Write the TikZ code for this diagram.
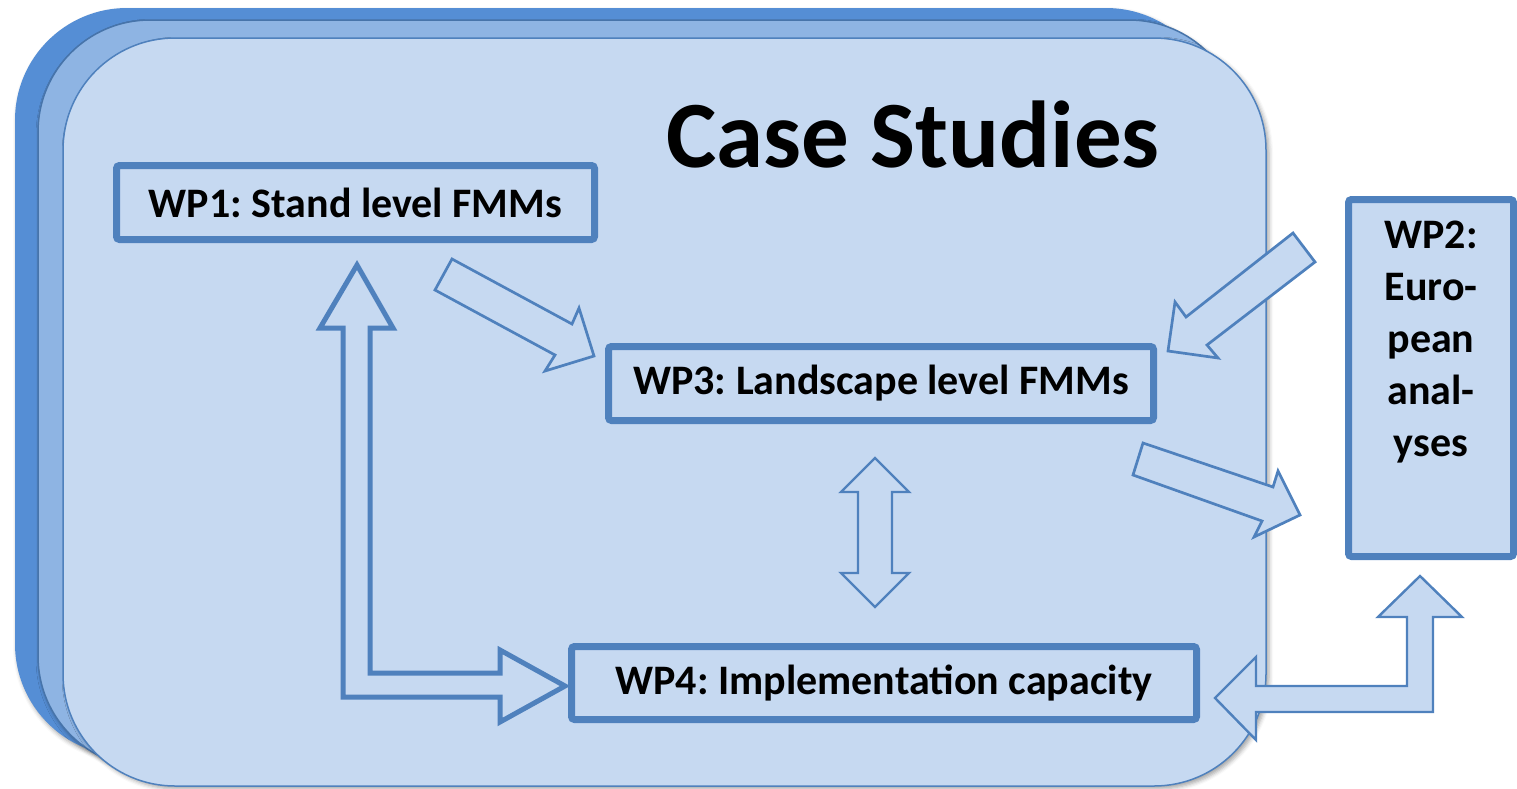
\documentclass[tikz,border=0pt]{standalone}
\usepackage{fontspec}
\setmainfont{Carlito}
\usetikzlibrary{shadows.blur}
\frenchspacing
\definecolor{bord}{RGB}{79,129,189}
\definecolor{lightfill}{RGB}{198,217,241}
\definecolor{midfill}{RGB}{142,180,227}
\definecolor{backfill}{RGB}{85,142,213}
\tikzset{
  layer/.style={rounded corners=112pt, line width=1.5pt},
  wpbox/.style={draw=bord, fill=lightfill, line width=7pt, rounded corners=3pt, inner sep=0pt},
  wptext/.style={font=\fontsize{42}{52}\selectfont\bfseries\frenchspacing, text=black, inner sep=0pt},
  bigarrow/.style={draw=bord, fill=lightfill, line width=5pt, miter limit=10},
  thinarrow/.style={draw=bord, fill=lightfill, line width=2.7pt, miter limit=10},
}
\begin{document}
\begin{tikzpicture}[x=1pt,y=-1pt]
\useasboundingbox (0,0) rectangle (1517,788);
% stacked layers
\fill[layer, backfill, blur shadow={shadow xshift=2pt, shadow yshift=-3pt, shadow opacity=35, shadow blur radius=4pt}] (15,8) rectangle (1218,756);
\draw[layer, draw=bord!90!black, fill=midfill, blur shadow={shadow xshift=2pt, shadow yshift=-3pt, shadow opacity=35, shadow blur radius=4pt}] (38,20) rectangle (1241,768);
\draw[layer, draw=bord, fill=lightfill, blur shadow={shadow xshift=3pt, shadow yshift=-3pt, shadow opacity=35, shadow blur radius=4pt}] (63,38) rectangle (1266,786);
% title
\node[font=\fontsize{95}{100}\selectfont\bfseries, inner sep=0pt] (title) at (913,135) {Case Studies};
% boxes
\node[wpbox, minimum width=478pt, minimum height=74pt] (wp1) at (355.5,202.5) {};
\node[wptext] (wp1t) at (wp1.center) {WP1: Stand level FMMs};
\node[wpbox, minimum width=545pt, minimum height=74pt] (wp3) at (881,383.5) {};
\node[wptext] (wp3t) at (wp3.center) {WP3: Landscape level FMMs};
\node[wpbox, minimum width=625pt, minimum height=73pt] (wp4) at (884,683) {};
\node[wptext] (wp4t) at (wp4.center) {WP4: Implementation capacity};
\node[wpbox, minimum width=165pt, minimum height=357pt] (wp2) at (1431,378) {};
\node[wptext, align=center, anchor=north] (wp2t) at ([yshift=-25pt]wp2.north) {WP2:\\Euro-\\pean\\anal-\\yses};
% block arrows
\draw[bigarrow] (357,265) -- (393,328) -- (370,328) -- (370,673) -- (500,673) -- (500,650) -- (565,686) -- (500,722) -- (500,697) -- (343,697) -- (343,328) -- (320,328) -- cycle;
\draw[thinarrow] (452,259) -- (572,324) -- (579,308) -- (594,356) -- (545,371) -- (555,355) -- (435,290) -- cycle;
\draw[thinarrow] (1293,233) -- (1315,262) -- (1207,345) -- (1218,358) -- (1168,351) -- (1175,302) -- (1186,317) -- cycle;
\draw[thinarrow] (1143,443) -- (1273,487) -- (1278,471) -- (1300,515) -- (1254,537) -- (1262,521) -- (1133,475) -- cycle;
\draw[thinarrow, line width=2.4pt] (875,458) -- (909,492) -- (892,492) -- (892,573) -- (909,573) -- (875,607) -- (841,573) -- (858,573) -- (858,492) -- (841,492) -- cycle;
\draw[thinarrow, line width=2.4pt] (1420,576) -- (1462,617) -- (1433,617) -- (1433,712) -- (1256,712) -- (1256,740) -- (1215,698) -- (1256,657) -- (1256,686) -- (1407,686) -- (1407,617) -- (1378,617) -- cycle;
\end{tikzpicture}
\end{document}
